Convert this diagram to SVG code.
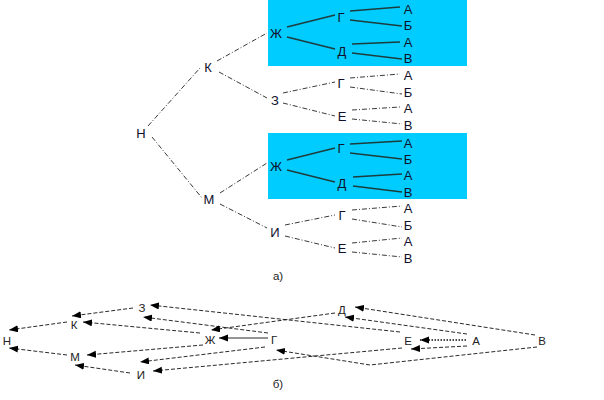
<svg xmlns="http://www.w3.org/2000/svg" width="604" height="400" viewBox="0 0 604 400">
<defs>
<style>
text{font-family:"Liberation Sans",Arial,sans-serif;fill:#10102a;text-anchor:middle}
.t{font-size:13px}
.b{font-size:11.5px;fill:#222}
.dl{stroke:#222;stroke-width:0.9;stroke-dasharray:5,2,1,2;fill:none}
.sl{stroke:#1d3d3d;stroke-width:1.4;fill:none}
.ed{stroke:#111;stroke-width:0.9;stroke-dasharray:4,2;fill:none;marker-end:url(#ah)}
.es{stroke:#111;stroke-width:0.9;fill:none;marker-end:url(#ah)}
.eo{stroke:#111;stroke-width:1.3;stroke-dasharray:1.5,1.5;fill:none;marker-end:url(#ah)}
.box{fill:#00ccff}
</style>
<marker id="ah" markerUnits="userSpaceOnUse" markerWidth="10" markerHeight="8" refX="9" refY="3.5" orient="auto">
<path d="M0,0 L9,3.5 L0,7 z" fill="#000"/>
</marker>
<pattern id="dots" width="6" height="6" patternUnits="userSpaceOnUse">
<rect width="6" height="6" fill="#00ccff"/>
<rect x="1" y="1" width="1" height="1" fill="#33d6ff"/>
</pattern>
</defs>
<rect width="604" height="400" fill="#fff"/>
<rect class="box" x="268" y="0" width="199" height="66" fill="url(#dots)"/>
<rect class="box" x="268" y="133" width="199" height="66" fill="url(#dots)"/>
<g id="connectors">
<line class="dl" x1="148" y1="126" x2="200" y2="68"/>
<line class="dl" x1="152" y1="137" x2="202" y2="198"/>
<line class="dl" x1="217" y1="61" x2="267" y2="33"/>
<line class="dl" x1="219" y1="72" x2="267" y2="98"/>
<line class="dl" x1="220" y1="193" x2="267" y2="163"/>
<line class="dl" x1="220" y1="204" x2="267" y2="228"/>
<line class="sl" x1="287" y1="27" x2="335" y2="15"/>
<line class="sl" x1="287" y1="37" x2="335" y2="49"/>
<line class="sl" x1="350" y1="11" x2="400" y2="7"/>
<line class="sl" x1="350" y1="20" x2="402" y2="26"/>
<line class="sl" x1="352" y1="44" x2="400" y2="42"/>
<line class="sl" x1="352" y1="53" x2="402" y2="59"/>
<line class="dl" x1="283" y1="93" x2="335" y2="82"/>
<line class="dl" x1="283" y1="103" x2="335" y2="116"/>
<line class="dl" x1="350" y1="78" x2="400" y2="74"/>
<line class="dl" x1="350" y1="87" x2="402" y2="94"/>
<line class="dl" x1="352" y1="110" x2="400" y2="107"/>
<line class="dl" x1="352" y1="119" x2="402" y2="124"/>
<line class="sl" x1="287" y1="160" x2="335" y2="148"/>
<line class="sl" x1="287" y1="170" x2="335" y2="182"/>
<line class="sl" x1="350" y1="144" x2="402" y2="141"/>
<line class="sl" x1="350" y1="153" x2="402" y2="159"/>
<line class="sl" x1="353" y1="177" x2="402" y2="174"/>
<line class="sl" x1="353" y1="186" x2="402" y2="192"/>
<line class="dl" x1="285" y1="225" x2="335" y2="215"/>
<line class="dl" x1="285" y1="236" x2="335" y2="248"/>
<line class="dl" x1="352" y1="210" x2="402" y2="206"/>
<line class="dl" x1="352" y1="219" x2="402" y2="227"/>
<line class="dl" x1="352" y1="243" x2="402" y2="238"/>
<line class="dl" x1="352" y1="252" x2="402" y2="257"/>
<line class="ed" x1="67" y1="322" x2="9" y2="330"/>
<line class="ed" x1="67" y1="355" x2="9" y2="348"/>
<line class="ed" x1="133" y1="308" x2="72" y2="316"/>
<line class="ed" x1="200" y1="333" x2="83" y2="322"/>
<line class="ed" x1="203" y1="345" x2="87" y2="355"/>
<line class="ed" x1="130" y1="373" x2="75" y2="365"/>
<line class="ed" x1="400" y1="332" x2="150" y2="305"/>
<line class="ed" x1="268" y1="333" x2="143" y2="317"/>
<line class="es" x1="268" y1="338" x2="219" y2="338"/>
<line class="ed" x1="335" y1="313" x2="211" y2="330"/>
<line class="ed" x1="265" y1="347" x2="140" y2="362"/>
<line class="ed" x1="402" y1="348" x2="153" y2="371"/>
<line class="ed" x1="535" y1="335" x2="355" y2="307"/>
<line class="ed" x1="467" y1="334" x2="345" y2="317"/>
<line class="eo" x1="466" y1="340" x2="420" y2="340"/>
<line class="ed" x1="467" y1="346" x2="411" y2="349"/>
<polyline class="ed" points="537,347 370,365 276,350"/>
</g>
<g id="n-top-N"><text class="t" x="141" y="138">Н</text></g>
<g id="n-top-K"><text class="t" x="208" y="72">К</text></g>
<g id="n-top-M"><text class="t" x="209" y="204">М</text></g>
<g id="n-top-ZH1"><text class="t" x="276" y="38">Ж</text></g>
<g id="n-top-G1"><text class="t" x="341" y="22">Г</text></g>
<g id="n-top-D1"><text class="t" x="342" y="56">Д</text></g>
<g id="n-top-A1"><text class="t" x="408" y="14">А</text></g>
<g id="n-top-B1"><text class="t" x="408" y="30">Б</text></g>
<g id="n-top-A2"><text class="t" x="408" y="47">А</text></g>
<g id="n-top-V1"><text class="t" x="408" y="63">В</text></g>
<g id="n-top-Z"><text class="t" x="275" y="105">З</text></g>
<g id="n-top-G2"><text class="t" x="341" y="88">Г</text></g>
<g id="n-top-E1"><text class="t" x="342" y="121">Е</text></g>
<g id="n-top-A3"><text class="t" x="408" y="80">А</text></g>
<g id="n-top-B2"><text class="t" x="408" y="97">Б</text></g>
<g id="n-top-A4"><text class="t" x="408" y="113">А</text></g>
<g id="n-top-V2"><text class="t" x="408" y="130">В</text></g>
<g id="n-top-ZH2"><text class="t" x="276" y="171">Ж</text></g>
<g id="n-top-G3"><text class="t" x="341" y="153">Г</text></g>
<g id="n-top-D2"><text class="t" x="342" y="188">Д</text></g>
<g id="n-top-A5"><text class="t" x="408" y="148">А</text></g>
<g id="n-top-B3"><text class="t" x="408" y="164">Б</text></g>
<g id="n-top-A6"><text class="t" x="408" y="180">А</text></g>
<g id="n-top-V3"><text class="t" x="408" y="197">В</text></g>
<g id="n-top-I"><text class="t" x="275" y="237">И</text></g>
<g id="n-top-G4"><text class="t" x="342" y="220">Г</text></g>
<g id="n-top-E2"><text class="t" x="342" y="253">Е</text></g>
<g id="n-top-A7"><text class="t" x="408" y="213">А</text></g>
<g id="n-top-B4"><text class="t" x="408" y="230">Б</text></g>
<g id="n-top-A8"><text class="t" x="408" y="246">А</text></g>
<g id="n-top-V4"><text class="t" x="408" y="263">В</text></g>
<g id="label-a"><text class="b" x="278" y="280">а)</text></g>
<g id="n-bot-N"><text class="b" x="7" y="345">Н</text></g>
<g id="n-bot-K"><text class="b" x="74" y="329">К</text></g>
<g id="n-bot-M"><text class="b" x="75" y="361">М</text></g>
<g id="n-bot-Z"><text class="b" x="142" y="312">З</text></g>
<g id="n-bot-I"><text class="b" x="141" y="379">И</text></g>
<g id="n-bot-ZH"><text class="b" x="210" y="344">Ж</text></g>
<g id="n-bot-G"><text class="b" x="274" y="344">Г</text></g>
<g id="n-bot-D"><text class="b" x="342" y="314">Д</text></g>
<g id="n-bot-E"><text class="b" x="408" y="345">Е</text></g>
<g id="n-bot-A"><text class="b" x="476" y="345">А</text></g>
<g id="n-bot-V"><text class="b" x="542" y="345">В</text></g>
<g id="label-b"><text class="b" x="278" y="388">б)</text></g>
</svg>
